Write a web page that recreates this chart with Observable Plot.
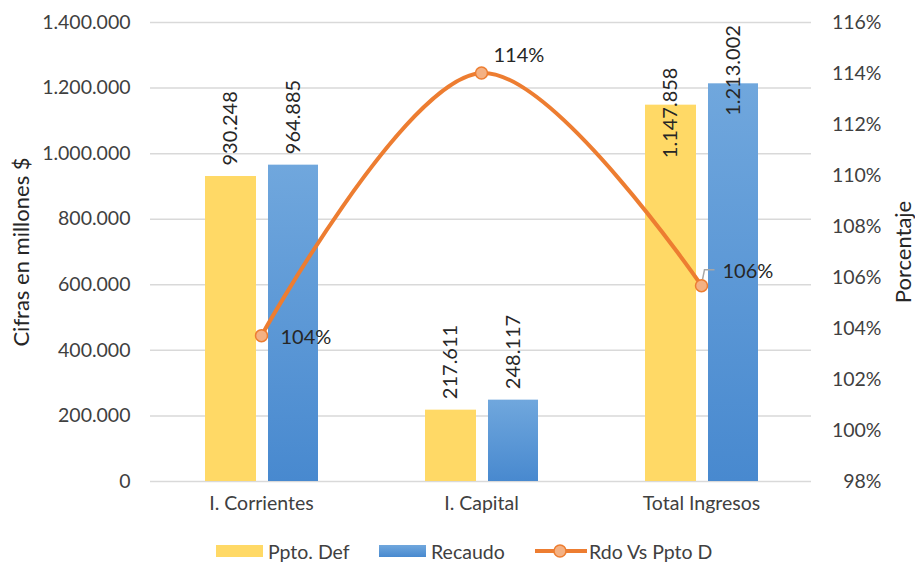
<!DOCTYPE html>
<html>
<head>
<meta charset="utf-8">
<script src="https://cdn.jsdelivr.net/npm/d3@7"></script>
<script src="https://cdn.jsdelivr.net/npm/@observablehq/plot@0.6"></script>
<style>
  body { margin: 0; background: #fff; font-family: Lato, "Open Sans", sans-serif; }
  #chart { width: 915px; height: 567px; position: relative; overflow: hidden; }
  #legend { position: relative; height: 32px; font-size: 19.5px; color: #404040; }
  #legend .item { position: absolute; top: 0; height: 32px; display: flex; align-items: center; white-space: nowrap; }
  #legend .sw { display: inline-block; width: 47px; height: 12px; margin-right: 5px; }
</style>
</head>
<body>
<div id="chart"></div>
<script>
// Ingresos: presupuesto definitivo vs. recaudo (cifras en millones $)
const categories = ["I. Corrientes", "I. Capital", "Total Ingresos"];
const pptoDef = [930248, 217611, 1147858];
const recaudo = [964885, 248117, 1213002];
const rdoVsPpto = [103.72, 114.02, 105.68]; // recaudo / presupuesto, %
const seriesNames = ["Ppto. Def", "Recaudo", "Rdo Vs Ppto D"];
const leftTicks = [0, 200000, 400000, 600000, 800000, 1000000, 1200000, 1400000];
const rightTicks = [98, 100, 102, 104, 106, 108, 110, 112, 114, 116];

const yMax = 1400000;
const pctMin = 98, pctMax = 116;
// secondary (percent) axis expressed on the primary y scale
const pctToY = p => (p - pctMin) / (pctMax - pctMin) * yMax;

const locale = d3.formatLocale({decimal: ",", thousands: ".", grouping: [3], currency: ["$", ""]});
const fmt = locale.format(",d");

const rows = categories.map((c, i) => ({i, cat: c, ppto: pptoDef[i], rec: recaudo[i], pct: rdoVsPpto[i]}));

const cYellow = "#FFD966";
const cOrange = "#ED7D31";
const cText = "#404040";

// small elbow leader from the point to its label
const leaderSymbol = {
  draw(ctx) { ctx.moveTo(1, -6); ctx.lineTo(3, -16); ctx.lineTo(13, -16); }
};

const pctLabel = d => Math.round(d.pct) + "%";

const svg = Plot.plot({
  width: 915,
  height: 535,
  marginLeft: 150,
  marginRight: 104,
  marginTop: 22,
  marginBottom: 54,
  style: {fontFamily: "Lato, 'Open Sans', sans-serif", fontSize: "19.5px", color: cText, background: "#fff", overflow: "visible"},
  x: {type: "band", domain: categories, paddingInner: 0, paddingOuter: 0, axis: null},
  y: {domain: [0, yMax], axis: null},
  marks: [
    Plot.ruleY(leftTicks, {stroke: "#d9d9d9", strokeWidth: 1.5}),
    // left axis labels
    Plot.text(leftTicks, {y: d => d, text: d => fmt(d), frameAnchor: "left", textAnchor: "end", dx: -20, fill: cText}),
    // right axis labels (percent)
    Plot.text(rightTicks, {y: pctToY, text: d => d + "%", frameAnchor: "right", textAnchor: "end", dx: 70, fill: cText}),
    // category labels
    Plot.text(categories, {x: d => d, text: d => d, frameAnchor: "bottom", dy: 28, fill: cText}),
    // axis titles
    Plot.text(["Cifras en millones $"], {text: d => d, frameAnchor: "left", textAnchor: "middle", rotate: -90, dx: -129, fontSize: 22, fill: "#262626"}),
    Plot.text(["Porcentaje"], {text: d => d, frameAnchor: "right", textAnchor: "middle", rotate: -90, dx: 92, fontSize: 22, fill: "#262626"}),
    // bars
    Plot.barY(rows, {x: "cat", y: "ppto", fill: cYellow, insetLeft: 54, insetRight: 115}),
    Plot.barY(rows, {x: "cat", y: "rec", fill: "url(#recGrad)", insetLeft: 117, insetRight: 53}),
    // bar value labels
    Plot.text(rows, {filter: d => d.i < 2, x: "cat", y: "ppto", text: d => fmt(d.ppto), rotate: -90, textAnchor: "start", dx: -30.5, dy: -11, fontSize: 20, fill: "#262626"}),
    Plot.text(rows, {filter: d => d.i < 2, x: "cat", y: "rec", text: d => fmt(d.rec), rotate: -90, textAnchor: "start", dx: 32, dy: -11, fontSize: 20, fill: "#262626"}),
    Plot.text(rows, {filter: d => d.i === 2, x: "cat", y: "ppto", text: d => fmt(d.ppto), rotate: -90, textAnchor: "start", dx: -30.5, dy: 53, fontSize: 20, fill: "#262626"}),
    Plot.text(rows, {filter: d => d.i === 2, x: "cat", y: "rec", text: d => fmt(d.rec), rotate: -90, textAnchor: "start", dx: 32, dy: 32, fontSize: 20, fill: "#262626"}),
    // percent line
    Plot.line(rows, {x: "cat", y: d => pctToY(d.pct), stroke: cOrange, strokeWidth: 4, curve: "catmull-rom"}),
    Plot.dot(rows, {filter: d => d.i === 2, x: "cat", y: d => pctToY(d.pct), symbol: leaderSymbol, r: 5, fill: "none", stroke: "#a6a6a6", strokeWidth: 1.5}),
    Plot.dot(rows, {x: "cat", y: d => pctToY(d.pct), r: 6, fill: "#F4B183", stroke: cOrange, strokeWidth: 1.5}),
    Plot.text(rows, {filter: d => d.i === 0, x: "cat", y: d => pctToY(d.pct), text: pctLabel, textAnchor: "start", dx: 19, dy: 2, fontSize: 20, fill: "#262626"}),
    Plot.text(rows, {filter: d => d.i === 1, x: "cat", y: d => pctToY(d.pct), text: pctLabel, textAnchor: "start", dx: 12, dy: -17, fontSize: 20, fill: "#262626"}),
    Plot.text(rows, {filter: d => d.i === 2, x: "cat", y: d => pctToY(d.pct), text: pctLabel, textAnchor: "start", dx: 21, dy: -14, fontSize: 20, fill: "#262626"})
  ]
});

// vertical gradient for the "Recaudo" bars
const defs = d3.select(svg).insert("defs", ":first-child");
const grad = defs.append("linearGradient").attr("id", "recGrad")
  .attr("x1", 0).attr("y1", 0).attr("x2", 0).attr("y2", 1);
grad.append("stop").attr("offset", "0%").attr("stop-color", "#70A7DD");
grad.append("stop").attr("offset", "100%").attr("stop-color", "#4889CF");

const chart = document.getElementById("chart");
chart.appendChild(svg);

// legend below the chart
const legend = d3.select(chart).append("div").attr("id", "legend");
const legendLeft = [216, 379, 535];
const swatches = [
  s => s.append("span").attr("class", "sw").style("background", cYellow),
  s => s.append("span").attr("class", "sw").style("background", "linear-gradient(#70A7DD, #4889CF)"),
  s => {
    const g = s.append("svg").attr("width", 52).attr("height", 16).style("margin-right", "2px");
    g.append("line").attr("x1", 0).attr("x2", 52).attr("y1", 8).attr("y2", 8).attr("stroke", cOrange).attr("stroke-width", 4);
    g.append("circle").attr("cx", 25).attr("cy", 8).attr("r", 6).attr("fill", "#F4B183").attr("stroke", cOrange).attr("stroke-width", 1.5);
  }
];
seriesNames.forEach((name, i) => {
  const item = legend.append("div").attr("class", "item").style("left", legendLeft[i] + "px");
  swatches[i](item);
  item.append("span").text(name);
});
</script>
</body>
</html>
